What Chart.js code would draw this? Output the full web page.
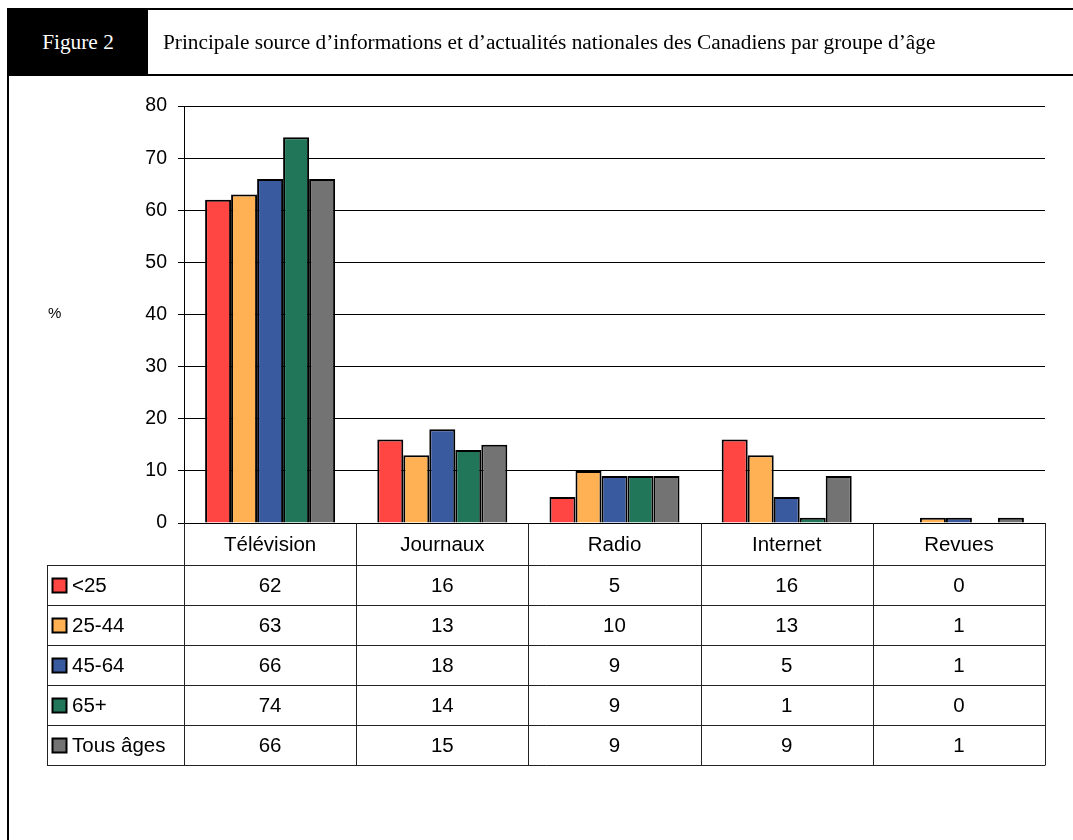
<!DOCTYPE html>
<html>
<head>
<meta charset="utf-8">
<script src="https://cdn.jsdelivr.net/npm/chart.js@4.4.1/dist/chart.umd.min.js"></script>
<style>
  html, body { margin: 0; padding: 0; background: #fff; }
  body { width: 1073px; height: 840px; position: relative; overflow: hidden; }
  #frameTop { position: absolute; left: 7px; top: 8px; width: 1066px; height: 2px; background: #000; }
  #frameHead { position: absolute; left: 7px; top: 74px; width: 1066px; height: 2px; background: #000; }
  #frameLeft { position: absolute; left: 7px; top: 8px; width: 2px; height: 832px; background: #000; }
  #figLabel { position: absolute; left: 8px; top: 9px; width: 140px; height: 66px; background: #000; color: #fff;
    font-family: "Liberation Serif", "Times New Roman", serif; font-size: 21.3px; line-height: 66px; text-align: center; }
  #figTitle { position: absolute; left: 163px; top: 9px; height: 66px; line-height: 66px; color: #000;
    font-family: "Liberation Serif", "Times New Roman", serif; font-size: 21.3px; white-space: nowrap; }
  #chart { position: absolute; left: 0; top: 0; }
</style>
</head>
<body>
<canvas id="chart" width="1073" height="840"></canvas>
<div id="frameTop"></div>
<div id="frameHead"></div>
<div id="frameLeft"></div>
<div id="figLabel">Figure 2</div>
<div id="figTitle">Principale source d’informations et d’actualités nationales des Canadiens par groupe d’âge</div>
<script>
// Sources of news, share of respondents (%) by age group
const categories = ['Télévision', 'Journaux', 'Radio', 'Internet', 'Revues'];
const ageGroups = ['<25', '25-44', '45-64', '65+', 'Tous âges'];
const under25 = [62, 16, 5, 16, 0];
const age25to44 = [63, 13, 10, 13, 1];
const age45to64 = [66, 18, 9, 5, 1];
const age65plus = [74, 14, 9, 1, 0];
const allAges = [66, 15, 9, 9, 1];
const yTicks = [0, 10, 20, 30, 40, 50, 60, 70, 80];

const seriesValues = [under25, age25to44, age45to64, age65plus, allAges];
const seriesColors = ['#FF4642', '#FFB154', '#3A5AA0', '#21765A', '#737373'];

const FONT = '"Liberation Sans", Arial, sans-serif';

// Data table drawn under the plot, aligned with the category scale
const dataTable = {
  id: 'dataTable',
  afterDraw(chart) {
    const ctx = chart.ctx;
    const x = chart.scales.x;
    const area = chart.chartArea;
    const n = categories.length;
    const colW = (x.right - x.left) / n;
    const top = area.bottom;
    const headerBottom = top + 42;
    const rowH = 40;
    const tableBottom = headerBottom + rowH * ageGroups.length;
    const tableLeft = 47;

    ctx.save();
    ctx.strokeStyle = '#222';
    ctx.lineWidth = 1;
    ctx.beginPath();
    // column lines
    for (let i = 0; i <= n; i++) {
      const px = Math.round(x.left + i * colW) + 0.5;
      ctx.moveTo(px, top);
      ctx.lineTo(px, tableBottom);
    }
    // left edge of label column
    ctx.moveTo(tableLeft + 0.5, headerBottom);
    ctx.lineTo(tableLeft + 0.5, tableBottom);
    // row lines
    for (let r = 0; r <= ageGroups.length; r++) {
      const py = Math.round(headerBottom + r * rowH) + 0.5;
      ctx.moveTo(tableLeft, py);
      ctx.lineTo(x.right + 0.5, py);
    }
    ctx.stroke();

    ctx.fillStyle = '#000';
    ctx.font = '20.5px ' + FONT;
    ctx.textAlign = 'center';
    ctx.textBaseline = 'middle';
    categories.forEach((c, i) => {
      ctx.fillText(c, x.getPixelForValue(i), (top + headerBottom) / 2 + 1);
    });

    ageGroups.forEach((g, r) => {
      const cy = headerBottom + r * rowH + rowH / 2;
      // legend key
      ctx.fillStyle = seriesColors[r];
      ctx.fillRect(52.5, cy - 6.5, 14, 14);
      ctx.strokeStyle = '#000';
      ctx.lineWidth = 2;
      ctx.strokeRect(52.5, cy - 6.5, 14, 14);
      ctx.fillStyle = '#000';
      ctx.textAlign = 'left';
      ctx.fillText(g, 72, cy + 1);
      ctx.textAlign = 'center';
      seriesValues[r].forEach((v, i) => {
        ctx.fillText(String(v), x.getPixelForValue(i), cy + 1);
      });
    });

    // unit label
    ctx.font = '15px ' + FONT;
    ctx.textAlign = 'left';
    ctx.fillText('%', 48, chart.scales.y.getPixelForValue(40) - 1);
    ctx.restore();
  }
};

new Chart(document.getElementById('chart'), {
  type: 'bar',
  data: {
    labels: categories,
    datasets: ageGroups.map((g, i) => ({
      label: g,
      data: seriesValues[i],
      backgroundColor: seriesColors[i],
      borderColor: '#000',
      borderWidth: 2,
      categoryPercentage: 0.755,
      barPercentage: 1
    }))
  },
  options: {
    responsive: false,
    animation: false,
    devicePixelRatio: 1,
    layout: { padding: { left: 0, top: 106, right: 28, bottom: 317 } },
    plugins: { legend: { display: false }, tooltip: { enabled: false } },
    scales: {
      x: { display: false },
      y: {
        min: 0,
        max: 80,
        afterFit(scale) { scale.width = 184; },
        afterBuildTicks(scale) { scale.ticks = yTicks.map(v => ({ value: v })); },
        grid: { color: '#000', lineWidth: 1, tickLength: 6, drawTicks: true },
        border: { color: '#000', width: 1 },
        ticks: { color: '#000', padding: 11, font: { family: FONT, size: 19.5 } }
      }
    }
  },
  plugins: [dataTable]
});
</script>
</body>
</html>
